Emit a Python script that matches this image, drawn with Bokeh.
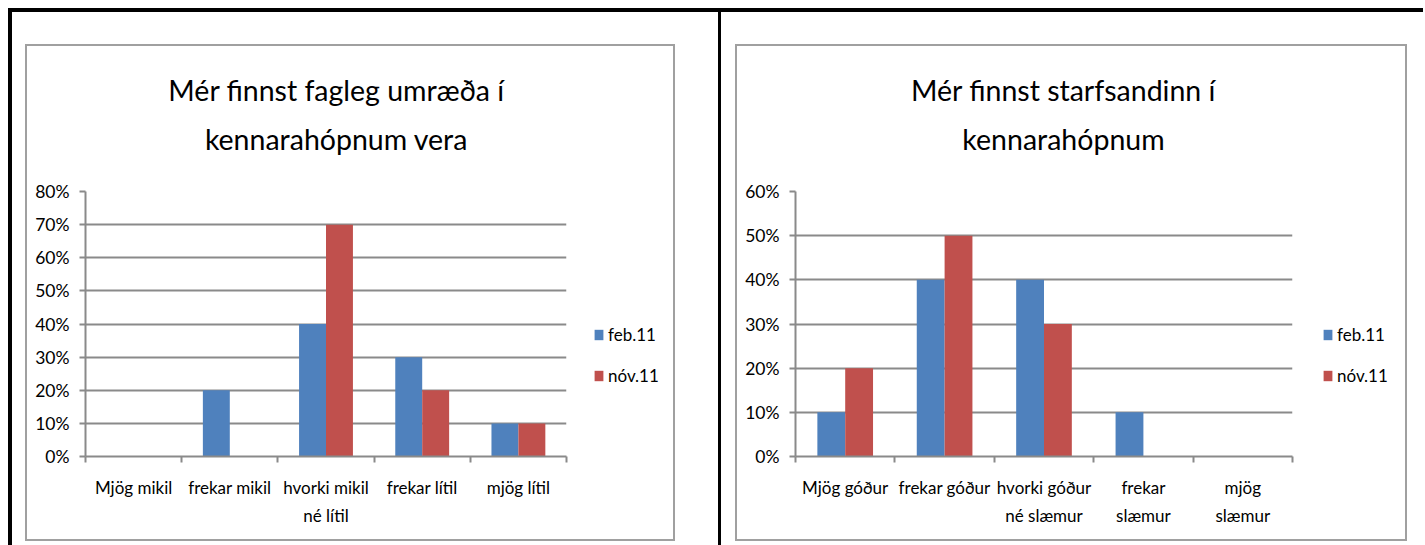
from bokeh.plotting import figure
from bokeh.layouts import row, column
from bokeh.models import (Range1d, FixedTicker, PrintfTickFormatter, Label, Legend,
                          LegendItem, ColumnDataSource)
from bokeh.embed import file_html
from bokeh.resources import INLINE

FONT = "Lato"

series_names = ["feb.11", "nóv.11"]
series_colors = ["#4F81BD", "#C0504D"]

left_title = ["Mér finnst fagleg umræða í", "kennarahópnum vera"]
left_categories = ["Mjög mikil", "frekar mikil", "hvorki mikil\nné lítil", "frekar lítil", "mjög lítil"]
left_feb = [0, 20, 40, 30, 10]
left_nov = [0, 0, 70, 20, 10]
left_yticks = [0, 10, 20, 30, 40, 50, 60, 70, 80]

right_title = ["Mér finnst starfsandinn í", "kennarahópnum"]
right_categories = ["Mjög góður", "frekar góður", "hvorki góður\nné slæmur", "frekar\nslæmur", "mjög\nslæmur"]
right_feb = [10, 40, 40, 10, 0]
right_nov = [20, 50, 30, 0, 0]
right_yticks = [0, 10, 20, 30, 40, 50, 60]

GRAY = "#8a8a8a"
BOX = "2px solid #a0a0a0"
TITLE_H = 120
CHART_H = 373


def blank_fig(width, height, xr, yr):
    f = figure(width=width, height=height, x_range=xr, y_range=yr,
               x_axis_type=None, y_axis_type=None, min_border=0,
               output_backend="svg", toolbar_location=None)
    f.outline_line_color = None
    return f


def title_fig(width, lines, cx):
    t = blank_fig(width, TITLE_H, Range1d(0, width), Range1d(0, TITLE_H))
    for txt, ym in zip(lines, [77, 28]):
        t.add_layout(Label(x=cx, y=ym, text=txt, text_align="center", text_baseline="middle",
                           text_font=FONT, text_font_size="28.5px", text_color="black"))
    return t


def legend_fig(width, lx):
    # legend-only panel; the proxy renderers have a zero-height bar outside the view
    f = blank_fig(width, CHART_H, Range1d(0, 1), Range1d(0, 1))
    items = []
    for name, col in zip(series_names, series_colors):
        r = f.vbar(x=[5], top=[0], width=0.1, fill_color=col, line_color=None)
        items.append(LegendItem(label=name, renderers=[r]))
    f.add_layout(Legend(items=items, location=(lx, 70), orientation="vertical",
                        glyph_width=11, glyph_height=13, label_height=13, spacing=20,
                        label_standoff=4, padding=0, margin=0,
                        border_line_color=None, background_fill_alpha=0,
                        label_text_font=FONT, label_text_font_size="17px",
                        label_text_color="black"))
    return f


def chart_fig(frame_left, frame_width, cats, feb, nov, yticks):
    n = len(cats)
    width = frame_left + frame_width + 10
    p = figure(width=width, height=CHART_H, x_range=Range1d(0, n), y_range=Range1d(0, yticks[-1]),
               output_backend="svg", toolbar_location=None,
               min_border_left=frame_left, min_border_right=10,
               min_border_top=25, min_border_bottom=CHART_H - 25 - 265)
    p.outline_line_color = None
    p.xgrid.visible = False
    p.ygrid.ticker = FixedTicker(ticks=yticks)
    p.ygrid.grid_line_color = GRAY
    p.ygrid.grid_line_width = 2

    ya = p.yaxis[0]
    ya.ticker = FixedTicker(ticks=yticks)
    ya.formatter = PrintfTickFormatter(format="%d%%")
    ya.axis_line_color = GRAY
    ya.axis_line_width = 2
    ya.major_tick_line_color = GRAY
    ya.major_tick_line_width = 2
    ya.major_tick_out = 6
    ya.major_tick_in = 0
    ya.minor_tick_line_color = None
    ya.major_label_standoff = 10
    ya.major_label_text_font = FONT
    ya.major_label_text_font_size = "17.5px"
    ya.major_label_text_color = "black"

    centers = [i + 0.5 for i in range(n)]
    xa = p.xaxis[0]
    xa.ticker = FixedTicker(ticks=centers, minor_ticks=list(range(n + 1)))
    xa.major_label_overrides = {c: lab for c, lab in zip(centers, cats)}
    xa.axis_line_color = GRAY
    xa.axis_line_width = 2
    xa.major_tick_line_color = None
    xa.major_tick_out = 6
    xa.minor_tick_line_color = GRAY
    xa.minor_tick_line_width = 2
    xa.minor_tick_out = 6
    xa.minor_tick_in = 0
    xa.major_label_standoff = 14
    xa.major_label_text_font = FONT
    xa.major_label_text_font_size = "17px"
    xa.major_label_text_color = "black"
    xa.major_label_text_line_height = 1.35

    for k, (vals, col) in enumerate(zip([feb, nov], series_colors)):
        src = ColumnDataSource(dict(x=[i + 0.36 + 0.28 * k for i in range(n)], top=vals))
        p.vbar(x="x", top="top", width=0.28, source=src, fill_color=col, line_color=None)
    return p


tL = title_fig(646, left_title, 309)
pL = chart_fig(58, 481, left_categories, left_feb, left_nov, left_yticks)
lL = legend_fig(646 - pL.width, 17)
tR = title_fig(668, right_title, 326)
pR = chart_fig(58, 497, right_categories, right_feb, right_nov, right_yticks)
lR = legend_fig(668 - pR.width, 20)

boxL = column(tL, row(pL, lL, spacing=0), spacing=0, margin=(32, 43, 4, 13),
              styles={"border": BOX})
boxR = column(tR, row(pR, lR, spacing=0), spacing=0, margin=(32, 16, 4, 14),
              styles={"border": BOX})
colR = column(boxR, spacing=0, styles={"border-left": "3px solid black"})
layout = row(boxL, colR, spacing=0, margin=(8, 0, 0, 8),
             styles={"border-top": "4px solid black", "border-left": "4px solid black"})

open("out.html", "w").write(file_html(layout, INLINE))
